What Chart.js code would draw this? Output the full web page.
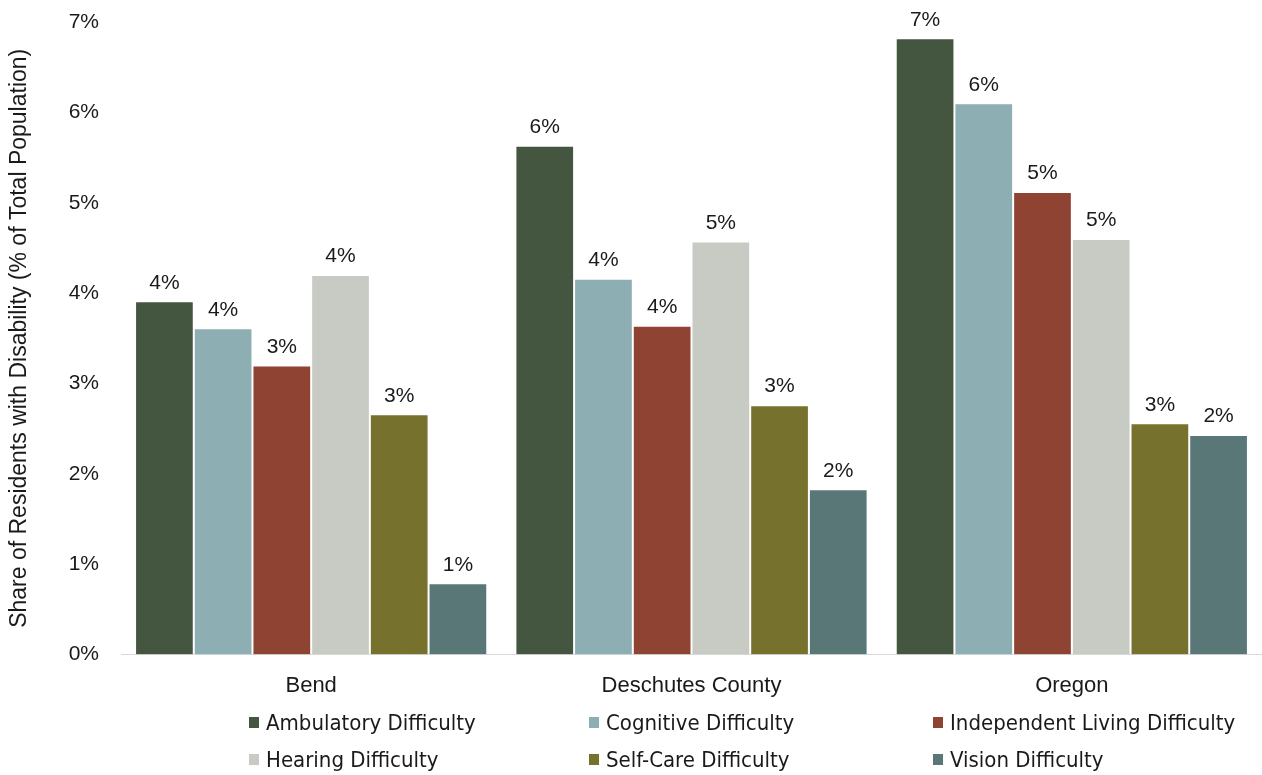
<!DOCTYPE html>
<html>
<head>
<meta charset="utf-8">
<script src="https://cdn.jsdelivr.net/npm/chart.js@4"></script>
<style>
  html, body { margin: 0; padding: 0; background: #fff; }
  #wrap { position: relative; width: 1262px; height: 775px; }
  #legend {
    position: absolute; left: 0; top: 710px; width: 1262px; height: 65px;
    font-family: "Liberation Sans Narrow", "DejaVu Sans Condensed", "Liberation Sans", sans-serif;
    font-size: 22px; color: #1a1a1a;
  }
  .item { position: absolute; display: flex; align-items: center; white-space: nowrap; }
  .box { width: 10px; height: 11px; margin-right: 7px; }
</style>
</head>
<body>
<div id="wrap">
  <canvas id="chart" width="1262" height="775"></canvas>
  <div id="legend"></div>
</div>
<script>
// Data
const categories = ['Bend', 'Deschutes County', 'Oregon'];
const seriesNames = [
    'Ambulatory Difficulty',
    'Cognitive Difficulty',
    'Independent Living Difficulty',
    'Hearing Difficulty',
    'Self-Care Difficulty',
    'Vision Difficulty'
];
const ambulatory = [3.91, 5.63, 6.82];
const cognitive = [3.61, 4.16, 6.10];
const independentLiving = [3.20, 3.64, 5.12];
const hearing = [4.20, 4.57, 4.60];
const selfCare = [2.66, 2.76, 2.56];
const vision = [0.79, 1.83, 2.43];
const yTicks = [0, 1, 2, 3, 4, 5, 6, 7];

const seriesValues = [ambulatory, cognitive, independentLiving, hearing, selfCare, vision];
const seriesColors = ['#445640', '#8DAEB2', '#8E4333', '#C8CBC4', '#77712E', '#5A7778'];

const baseFont = '"Liberation Sans", Arial, sans-serif';

// Draws the rounded percent above each bar
const barLabels = {
    id: 'barLabels',
    afterDatasetsDraw(chart) {
        const ctx = chart.ctx;
        ctx.save();
        ctx.font = '21px ' + baseFont;
        ctx.fillStyle = '#1a1a1a';
        ctx.textAlign = 'center';
        ctx.textBaseline = 'bottom';
        chart.data.datasets.forEach((ds, i) => {
            const meta = chart.getDatasetMeta(i);
            meta.data.forEach((bar, j) => {
                ctx.fillText(Math.round(ds.data[j]) + '%', bar.x, bar.y - 8);
            });
        });
        ctx.restore();
    }
};

const chart = new Chart(document.getElementById('chart'), {
    type: 'bar',
    data: {
        labels: categories,
        datasets: seriesNames.map((name, i) => ({
            label: name,
            data: seriesValues[i],
            backgroundColor: seriesColors[i],
            borderColor: 'rgba(255,255,255,0.35)',
            borderWidth: 1,
            categoryPercentage: 0.926,
            barPercentage: 1
        }))
    },
    options: {
        responsive: false,
        animation: false,
        layout: { padding: { top: 0, right: 0, bottom: 58, left: 0 } },
        plugins: {
            legend: { display: false },
            tooltip: { enabled: false }
        },
        scales: {
            x: {
                grid: { display: false, drawTicks: false },
                border: { color: '#d9d9d9', width: 1 },
                ticks: {
                    color: '#1a1a1a',
                    padding: 18,
                    font: { family: baseFont, size: 22 }
                }
            },
            y: {
                min: 0,
                max: 7,
                afterBuildTicks(scale) {
                    scale.ticks = yTicks.map(v => ({ value: v }));
                },
                afterFit(scale) {
                    scale.width = 121;
                    scale.paddingTop = 22;
                    scale.paddingBottom = 0;
                },
                grid: { display: false, drawTicks: false },
                border: { display: false },
                ticks: {
                    color: '#1a1a1a',
                    padding: 22,
                    font: { family: baseFont, size: 21 },
                    callback: v => v + '%'
                },
                title: {
                    display: true,
                    text: 'Share of Residents with Disability (% of Total Population)',
                    color: '#1a1a1a',
                    font: { family: baseFont, size: 23 },
                    padding: { top: 6, bottom: 0 }
                }
            }
        }
    },
    plugins: [barLabels]
});

// Legend in three fixed columns, built from the chart datasets
const legendCols = [249, 589, 933];
const legendRows = [0, 37];
const legendEl = document.getElementById('legend');
chart.data.datasets.forEach((ds, i) => {
    const item = document.createElement('div');
    item.className = 'item';
    item.style.left = legendCols[i % 3] + 'px';
    item.style.top = legendRows[Math.floor(i / 3)] + 'px';
    const box = document.createElement('span');
    box.className = 'box';
    box.style.background = ds.backgroundColor;
    const txt = document.createElement('span');
    txt.textContent = ds.label;
    item.appendChild(box);
    item.appendChild(txt);
    legendEl.appendChild(item);
});
</script>
</body>
</html>
